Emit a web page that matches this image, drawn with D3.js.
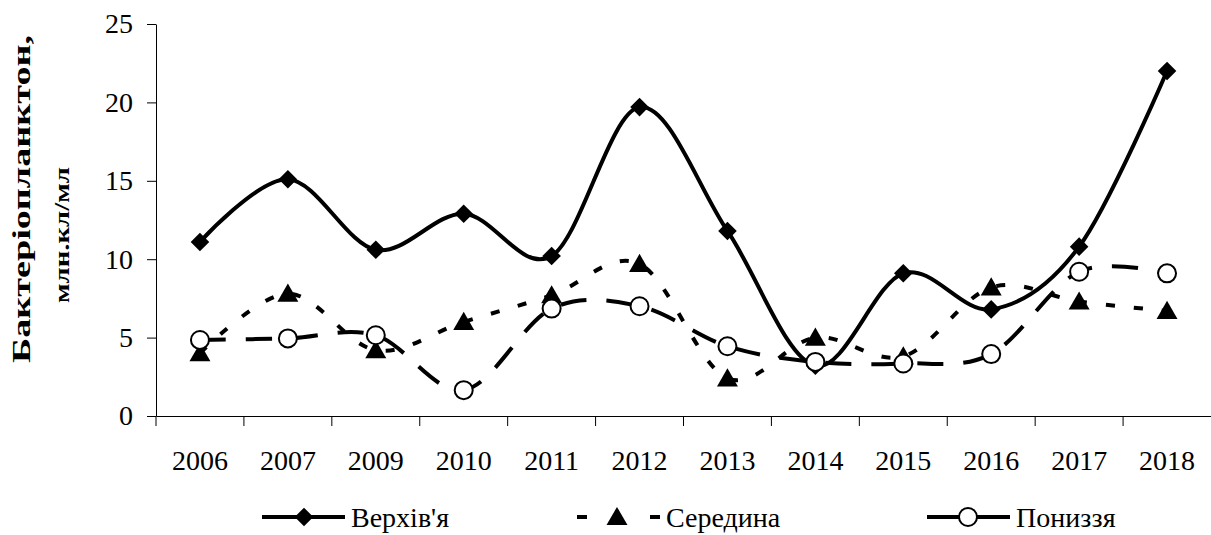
<!DOCTYPE html>
<html>
<head>
<meta charset="utf-8">
<script src="https://cdn.jsdelivr.net/npm/d3@7"></script>
<style>
  body { margin: 0; background: #fff; }
  svg text { font-family: "Liberation Serif", "DejaVu Serif", serif !important; fill: #000; }
  .axis path, .axis line { stroke: #000; stroke-width: 1; }
</style>
</head>
<body>
<script>

var years = ["2006", "2007", "2009", "2010", "2011", "2012", "2013", "2014", "2015", "2016", "2017", "2018"];
var verkhivia = [11.1, 15.1, 10.6, 12.9, 10.2, 19.7, 11.8, 3.2, 9.1, 6.8, 10.8, 22.0];
var seredyna = [4.0, 7.8, 4.2, 6.0, 7.7, 9.7, 2.4, 5.0, 3.8, 8.2, 7.3, 6.7];
var ponyzzia = [4.85, 4.95, 5.15, 1.65, 6.85, 7.0, 4.45, 3.45, 3.35, 3.95, 9.2, 9.1];
var yTicks = [0, 5, 10, 15, 20, 25];
var seriesNames = ["Верхів'я", "Середина", "Пониззя"];

var width = 1211,
    height = 535;

var serif = "'Liberation Serif', 'DejaVu Serif', serif";

var svg = d3.select("body").append("svg")
    .attr("width", width)
    .attr("height", height)
    .attr("font-family", serif);

var x = d3.scaleBand()
    .domain(years)
    .range([156, 1211]);

var y = d3.scaleLinear()
    .domain([0, 25])
    .range([416, 24]);

// axes
var xAxis = d3.axisBottom(x)
    .tickSize(0)
    .tickPadding(34)
    .tickSizeOuter(0);

var gx = svg.append("g")
    .attr("class", "axis")
    .attr("transform", "translate(0," + y(0) + ")")
    .call(xAxis)
    .attr("font-family", serif);
gx.selectAll("text").style("font-size", "28px");

// band boundary ticks
gx.selectAll(".bound")
    .data(years)
  .enter().append("line")
    .attr("x1", function(d) { return x(d); })
    .attr("x2", function(d) { return x(d); })
    .attr("y1", 0)
    .attr("y2", 10)
    .attr("stroke", "#000");

var yAxis = d3.axisLeft(y)
    .tickValues(yTicks)
    .tickSize(9)
    .tickPadding(14)
    .tickSizeOuter(0);

var gy = svg.append("g")
    .attr("class", "axis")
    .attr("transform", "translate(156,0)")
    .call(yAxis)
    .attr("font-family", serif);
gy.selectAll("text").style("font-size", "28px");

// y axis title
svg.append("text")
    .attr("transform", "translate(30,199) rotate(-90)")
    .attr("text-anchor", "middle")
    .attr("textLength", 328)
    .attr("lengthAdjust", "spacingAndGlyphs")
    .style("font-size", "25px")
    .style("font-weight", "bold")
    .text("Бактеріопланктон,");

svg.append("text")
    .attr("transform", "translate(69,235) rotate(-90)")
    .attr("text-anchor", "middle")
    .attr("textLength", 136)
    .attr("lengthAdjust", "spacingAndGlyphs")
    .style("font-size", "22px")
    .style("font-weight", "bold")
    .text("млн.кл/мл");

var cx = function(d, i) { return x(years[i]) + x.bandwidth() / 2; };

var line = d3.line()
    .x(cx)
    .y(function(d) { return y(d); })
    .curve(d3.curveCardinal.tension(0));

var diamond = d3.symbol().type(d3.symbolDiamond2).size(220);
var triangle = d3.symbol().type(d3.symbolTriangle).size(190);

// Верхів'я
svg.append("path")
    .datum(verkhivia)
    .attr("d", line)
    .attr("fill", "none")
    .attr("stroke", "#000")
    .attr("stroke-width", 4);

svg.selectAll(".dia")
    .data(verkhivia)
  .enter().append("path")
    .attr("class", "dia")
    .attr("d", diamond)
    .attr("transform", function(d, i) { return "translate(" + cx(d, i) + "," + y(d) + ")"; })
    .attr("fill", "#000");

// Середина
svg.append("path")
    .datum(seredyna)
    .attr("d", line)
    .attr("fill", "none")
    .attr("stroke", "#000")
    .attr("stroke-width", 4)
    .attr("stroke-dasharray", "9,19");

svg.selectAll(".tri")
    .data(seredyna)
  .enter().append("path")
    .attr("class", "tri")
    .attr("d", triangle)
    .attr("transform", function(d, i) { return "translate(" + cx(d, i) + "," + (y(d) + 2) + ")"; })
    .attr("fill", "#000");

// Пониззя
svg.append("path")
    .datum(ponyzzia)
    .attr("d", line)
    .attr("fill", "none")
    .attr("stroke", "#000")
    .attr("stroke-width", 4)
    .attr("stroke-dasharray", "26,20");

svg.selectAll(".circ")
    .data(ponyzzia)
  .enter().append("circle")
    .attr("class", "circ")
    .attr("cx", cx)
    .attr("cy", function(d) { return y(d); })
    .attr("r", 9)
    .attr("fill", "#fff")
    .attr("stroke", "#000")
    .attr("stroke-width", 2);

// legend
var legendY = 517;
var legendX = [262, 577, 927];
var legend = svg.selectAll("g.legend")
    .data(seriesNames)
  .enter().append("g")
    .attr("class", "legend")
    .attr("transform", function(d, i) { return "translate(" + legendX[i] + "," + legendY + ")"; });

legend.append("line")
    .attr("x1", 0)
    .attr("x2", 83)
    .attr("stroke", "#000")
    .attr("stroke-width", 4)
    .attr("stroke-dasharray", function(d, i) { return i === 0 ? null : (i === 1 ? "10,63,10" : "83"); });

legend.filter(function(d, i) { return i === 0; }).append("path")
    .attr("d", diamond)
    .attr("transform", "translate(42,0)")
    .attr("fill", "#000");

legend.filter(function(d, i) { return i === 1; }).append("path")
    .attr("d", triangle)
    .attr("transform", "translate(40,2)")
    .attr("fill", "#000");

legend.filter(function(d, i) { return i === 2; }).append("circle")
    .attr("cx", 41)
    .attr("r", 9)
    .attr("fill", "#fff")
    .attr("stroke", "#000")
    .attr("stroke-width", 2);

legend.append("text")
    .attr("x", 89)
    .attr("y", 10)
    .style("font-size", "28px")
    .text(function(d) { return d; });

</script>
</body>
</html>
